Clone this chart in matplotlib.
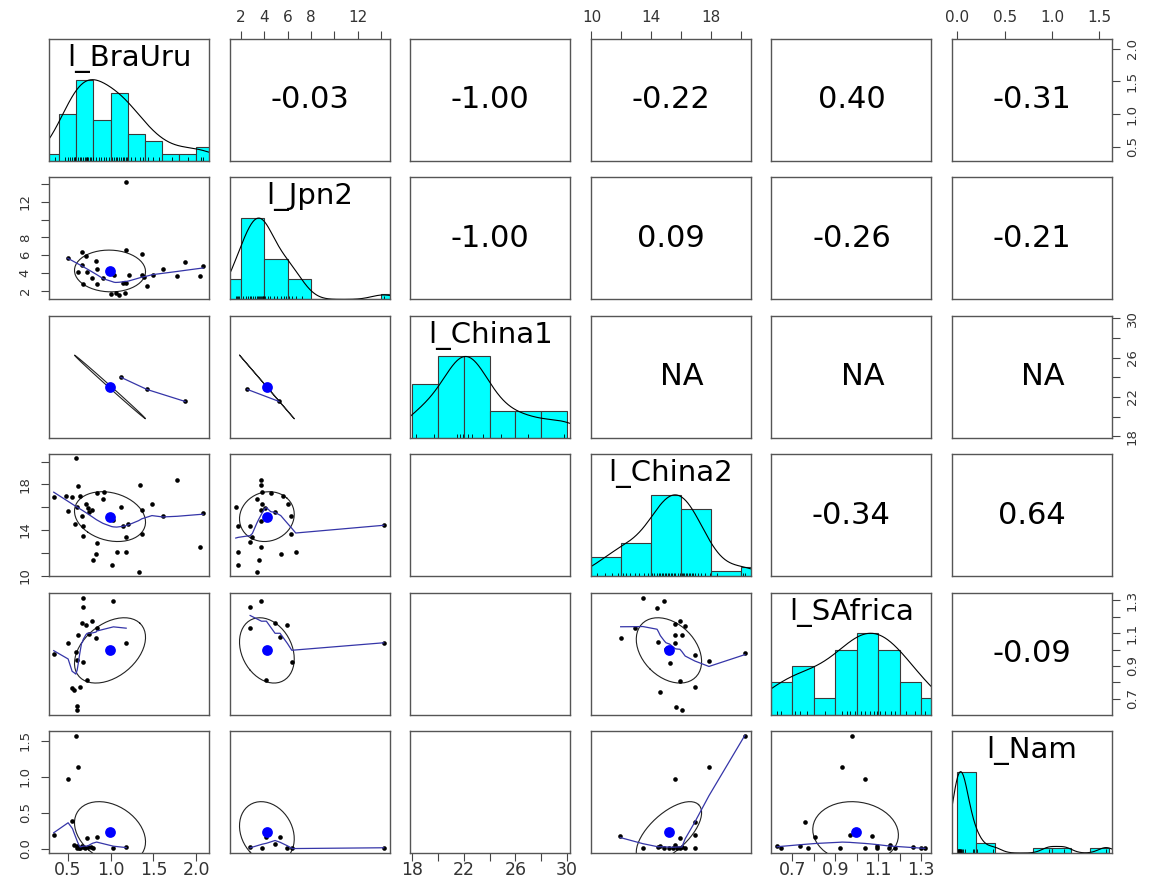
# -*- coding: utf-8 -*-
import matplotlib
matplotlib.use("Agg")
import matplotlib.pyplot as plt  # Biblioteca de gráficos
import numpy as np  # Biblioteca matemática

plt.rcParams["font.family"] = ["DejaVu Sans"]

# Nombres de las variables
nombres = ["l_BraUru", "l_Jpn2", "l_China1", "l_China2", "l_SAfrica", "l_Nam"]

# Valores de cada variable (histograma, rug, densidad, medias y desviaciones)
bra_uru = [0.35,
           0.47, 0.50, 0.53, 0.55, 0.57, 0.58, 0.59,
           0.62, 0.64, 0.66, 0.68, 0.70, 0.71, 0.72, 0.73, 0.74, 0.76, 0.77, 0.79,
           0.83, 0.86, 0.89, 0.92, 0.95, 0.98,
           1.02, 1.04, 1.06, 1.08, 1.10, 1.12, 1.14, 1.16, 1.18, 1.19,
           1.24, 1.29, 1.34, 1.38,
           1.44, 1.50, 1.56,
           1.72, 1.90, 2.05, 2.08]
jpn2 = [1.55, 1.66, 1.74, 1.81,
        2.20, 2.45, 2.60, 2.78, 2.90, 3.05, 3.20, 3.35, 3.45, 3.55, 3.65, 3.72, 3.80, 3.86,
        3.92, 3.97,
        4.10, 4.30, 4.50, 4.80, 5.10, 5.40, 5.70, 5.90,
        6.10, 6.40, 6.70, 7.20,
        14.22]
china1 = [18.3, 19.7, 21.5, 21.7, 21.9, 22.3, 22.6, 23.5, 24.9, 27.0, 29.8]
china2 = [10.35, 10.9, 11.4, 11.8,
          12.1, 12.3, 12.6, 12.9, 13.2, 13.5, 13.8,
          14.05, 14.2, 14.35, 14.5, 14.6, 14.7, 14.8, 14.9, 15.0, 15.1, 15.2, 15.3, 15.4, 15.5,
          15.6, 15.75, 15.9,
          16.05, 16.1, 16.2, 16.3, 16.4, 16.5, 16.6, 16.7, 16.8, 16.9, 17.1, 17.3, 17.6, 17.9,
          18.4, 20.1, 20.25]
safrica = [0.63, 0.645, 0.71, 0.735, 0.77, 0.85, 0.93, 0.955, 0.97, 0.99, 1.02, 1.04,
           1.06, 1.08, 1.095, 1.11, 1.13, 1.16, 1.18, 1.23, 1.27, 1.32]
nam = [0.005, 0.008, 0.01, 0.012, 0.015, 0.018, 0.02, 0.022, 0.025, 0.03, 0.035, 0.04,
       0.05, 0.06, 0.08, 0.16, 0.18, 0.21, 0.38, 0.97, 1.13, 1.57]
variables = [bra_uru, jpn2, china1, china2, safrica, nam]

# Límites de las clases de los histogramas
bins_bra_uru = [0.2, 0.4, 0.6, 0.8, 1.0, 1.2, 1.4, 1.6, 1.8, 2.0, 2.2]
bins_jpn2 = [0, 2, 4, 6, 8, 10, 12, 14, 16]
bins_china1 = [18, 20, 22, 24, 26, 28, 30]
bins_china2 = [10, 12, 14, 16, 18, 20, 22]
bins_safrica = [0.6, 0.7, 0.8, 0.9, 1.0, 1.1, 1.2, 1.3, 1.4]
bins_nam = [0.0, 0.2, 0.4, 0.6, 0.8, 1.0, 1.2, 1.4, 1.6]
bins = [bins_bra_uru, bins_jpn2, bins_china1, bins_china2, bins_safrica, bins_nam]

# Correlaciones por pares (nan = NA)
nan = np.nan
cor = [[1.0, -0.03, -0.999, -0.22, 0.40, -0.31],
       [-0.03, 1.0, -1.0, 0.09, -0.26, -0.21],
       [-0.999, -1.0, 1.0, nan, nan, nan],
       [-0.22, 0.09, nan, 1.0, -0.34, 0.64],
       [0.40, -0.26, nan, -0.34, 1.0, -0.09],
       [-0.31, -0.21, nan, 0.64, -0.09, 1.0]]

# Marcas de los ejes exteriores
ticks = [[0.5, 1.0, 1.5, 2.0],
         [2, 4, 6, 8, 10, 12, 14],
         [18, 20, 22, 24, 26, 28, 30],
         [10, 12, 14, 16, 18, 20],
         [0.7, 0.8, 0.9, 1.0, 1.1, 1.2, 1.3],
         [0.0, 0.5, 1.0, 1.5]]
tick_labels = [["0.5", "1.0", "1.5", "2.0"],
               ["2", "4", "6", "8", "", "12", ""],
               ["18", "", "22", "", "26", "", "30"],
               ["10", "", "14", "", "18", ""],
               ["0.7", "", "0.9", "", "1.1", "", "1.3"],
               ["0.0", "0.5", "1.0", "1.5"]]

# Puntos de los paneles inferiores (fila, columna)
p10_x = [1.18, 0.50, 0.665, 0.71, 0.83, 0.665, 0.84, 0.62, 0.73, 0.78, 0.68, 0.84, 0.915, 1.18,
         1.37, 1.21, 1.04, 1.14, 1.185, 1.01, 1.06, 1.10, 1.17, 1.37, 1.39, 1.43, 1.49, 1.61,
         1.78, 1.87, 2.04, 2.08]
p10_y = [14.22, 5.73, 6.40, 5.95, 5.36, 4.91, 4.50, 4.16, 4.09, 3.49, 2.78, 2.78, 3.42, 6.59,
         6.14, 3.76, 3.76, 2.86, 2.93, 1.66, 1.81, 1.52, 1.74, 3.79, 3.60, 2.56, 3.79, 4.43,
         3.71, 5.21, 3.71, 4.75]
p20_x = [1.12, 1.425, 1.87]
p20_y = [24.0, 22.76, 21.54]
p21_x = [2.57, 5.27]
p21_y = [22.76, 21.54]
p30_x = [0.594, 0.336, 0.485, 0.555, 0.641, 0.622, 0.837, 0.927, 0.908, 0.712, 0.504, 0.610,
         0.739, 0.778, 0.751, 0.661, 0.582, 0.680, 0.680, 0.837, 0.830, 0.790, 1.072, 1.182,
         1.013, 1.327, 1.033, 1.119, 1.143, 1.209, 1.182, 1.346, 1.366, 1.366, 1.483, 1.608,
         1.776, 2.043, 2.08]
p30_y = [20.29, 16.87, 16.96, 16.87, 16.96, 17.84, 17.25, 17.37, 16.73, 16.32, 15.64, 16.02,
         15.94, 15.79, 15.58, 15.26, 14.56, 14.33, 13.45, 12.87, 11.93, 11.35, 12.11, 12.05,
         10.94, 10.29, 14.85, 16.02, 14.39, 14.56, 13.39, 17.98, 15.79, 13.65, 16.32, 15.26,
         18.42, 12.51, 15.47]
p31_x = [3.71, 3.77, 3.79, 4.56, 3.37, 5.65, 6.05, 3.85, 1.57, 3.71, 4.08, 4.93, 6.33, 3.77,
         1.72, 2.80, 2.99, 6.27, 2.80, 3.71, 1.77, 5.42, 6.70, 3.57, 1.72, 3.42, 14.22, 4.22]
p31_y = [18.42, 17.98, 17.37, 17.25, 16.73, 16.96, 16.32, 16.32, 16.02, 15.79, 15.94, 15.61,
         15.26, 14.77, 14.39, 14.33, 13.39, 13.65, 12.92, 12.51, 12.08, 11.90, 12.05, 11.35,
         10.91, 10.29, 14.47, 15.2]
p40_x = [0.680, 0.680, 1.033, 0.661, 0.712, 0.778, 0.837, 0.622, 0.751, 0.830, 0.504, 1.182,
         0.594, 0.336, 0.610, 0.673, 0.727, 0.551, 0.571, 0.641, 0.610, 0.610]
p40_y = [1.316, 1.260, 1.296, 1.159, 1.149, 1.175, 1.129, 1.089, 1.095, 1.069, 1.042, 1.042,
         0.982, 0.972, 0.933, 0.921, 0.812, 0.766, 0.752, 0.772, 0.655, 0.631]
p41_x = [3.77, 2.80, 4.93, 5.99, 2.80, 5.36, 6.36, 4.19, 14.22]
p41_y = [1.296, 1.260, 1.159, 1.149, 1.129, 1.074, 0.921, 0.812, 1.042]
p43_x = [13.43, 14.87, 14.38, 15.91, 15.60, 16.26, 12.88, 11.95, 15.60, 16.04, 14.47, 15.60,
         16.90, 15.22, 17.85, 20.25, 15.91, 16.90, 14.60, 15.64, 16.04, 14.98]
p43_y = [1.314, 1.296, 1.256, 1.175, 1.155, 1.145, 1.129, 1.072, 1.088, 1.088, 1.044, 1.038,
         0.967, 0.919, 0.931, 0.978, 0.808, 0.768, 0.742, 0.651, 0.631, 1.004]
p50_x = [0.594, 0.614, 0.504, 0.555, 0.336, 0.727, 0.837, 0.571, 0.610, 0.661, 0.680, 0.602,
         0.633, 0.700, 0.739, 0.767, 0.790, 1.033, 1.182, 0.645]
p50_y = [1.569, 1.140, 0.969, 0.392, 0.198, 0.152, 0.170, 0.056, 0.046, 0.046, 0.022, 0.012,
         0.012, 0.012, 0.022, 0.022, 0.012, 0.015, 0.022, 0.015]
p51_x = [2.80, 3.85, 4.19, 4.93, 5.36, 5.99, 6.42, 14.22]
p51_y = [0.022, 0.012, 0.161, 0.069, 0.170, 0.012, 0.012, 0.015]
p53_x = [20.24, 17.85, 15.58, 11.92, 16.90, 16.90, 15.91, 13.43, 14.47, 14.60, 14.87, 15.20,
         15.58, 15.71, 15.91, 16.04, 16.26, 16.90, 15.42]
p53_y = [1.569, 1.140, 0.969, 0.175, 0.378, 0.193, 0.152, 0.012, 0.032, 0.046, 0.012, 0.012,
         0.060, 0.012, 0.015, 0.032, 0.015, 0.012, 0.012]
p54_x = [0.978, 0.932, 1.037, 0.761, 0.807, 0.967, 1.071, 0.629, 0.649, 0.737, 0.772, 0.921,
         1.037, 1.092, 1.092, 1.157, 1.149, 1.177, 1.261, 1.297, 1.317]
p54_y = [1.569, 1.140, 0.969, 0.378, 0.161, 0.193, 0.175, 0.046, 0.012, 0.046, 0.012, 0.012,
         0.012, 0.046, 0.012, 0.060, 0.012, 0.012, 0.023, 0.012, 0.012]

puntos = {(1, 0): (p10_x, p10_y), (2, 0): (p20_x, p20_y), (2, 1): (p21_x, p21_y),
          (3, 0): (p30_x, p30_y), (3, 1): (p31_x, p31_y),
          (4, 0): (p40_x, p40_y), (4, 1): (p41_x, p41_y), (4, 3): (p43_x, p43_y),
          (5, 0): (p50_x, p50_y), (5, 1): (p51_x, p51_y), (5, 3): (p53_x, p53_y),
          (5, 4): (p54_x, p54_y)}


# Suavizado lowess (como stats::lowess de R)
def lowess(x, y, f=2 / 3, it=3):
    x = np.asarray(x, float)
    y = np.asarray(y, float)
    o = np.argsort(x, kind="stable")
    x, y = x[o], y[o]
    n = len(x)
    ns = max(2, min(n, int(f * n + 1e-7)))
    rango = x[-1] - x[0]
    rw = np.ones(n)
    fit = np.zeros(n)
    for k in range(it + 1):
        for i in range(n):
            d = np.abs(x - x[i])
            h = max(np.sort(d)[ns - 1], 1e-12)
            w = np.where(d <= 0.999 * h, (1 - (d / h) ** 3) ** 3, 0.0)
            w[d <= 0.001 * h] = 1.0
            w = w * rw
            if w.sum() <= 0:
                fit[i] = y[i]
                continue
            w = w / w.sum()
            xm = (w * x).sum()
            c = (w * (x - xm) ** 2).sum()
            if np.sqrt(c) > 0.001 * rango:
                w = w * ((x[i] - xm) / c * (x - xm) + 1)
            fit[i] = (w * y).sum()
        if k == it:
            break
        res = y - fit
        cmad = 6 * np.median(np.abs(res))
        if cmad < 1e-7 * np.mean(np.abs(y)):
            break
        u = np.abs(res) / cmad
        rw = np.where(u <= 0.999, (1 - u ** 2) ** 2, 0.0)
        rw[u <= 0.001] = 1.0
    return x, fit


# Densidad (bw="nrd", adjust=1.2), escalada a máximo 1
def densidad(v):
    v = np.asarray(v, float)
    q1, q3 = np.percentile(v, [25, 75])
    bw = 1.06 * min(np.std(v, ddof=1), (q3 - q1) / 1.34) * len(v) ** (-0.2) * 1.2
    gx = np.linspace(v.min() - 3 * bw, v.max() + 3 * bw, 512)
    gy = np.exp(-0.5 * ((gx[:, None] - v[None, :]) / bw) ** 2).sum(axis=1)
    return gx, gy / gy.max()


# Elipse de correlación (como psych::draw.ellipse)
def elipse(mx, my, sx, sy, r, seg=51):
    ang = np.linspace(0, 2 * np.pi, seg + 1)
    th = np.sign(r) / np.sqrt(2) if abs(r) > 0 else 1 / np.sqrt(2)
    a, b = np.sqrt(1 + r), np.sqrt(1 - r)
    ex = a * th * np.cos(ang) - b * th * np.sin(ang)
    ey = a * th * np.cos(ang) + b * th * np.sin(ang)
    return ex * sx + mx, ey * sy + my


# Rangos (4% extra como en R), medias y desviaciones
lims = []
for v in variables:
    lo, hi = min(v), max(v)
    lims.append((lo - 0.04 * (hi - lo), hi + 0.04 * (hi - lo)))
medias = [np.mean(v) for v in variables]
desv = [np.std(v, ddof=1) for v in variables]

# Figura
W, H = 1156, 888
fig = plt.figure(figsize=(W / 100, H / 100), dpi=100)
pw, ph = 160, 122
gris = "#555555"
tick_kw = dict(direction="out", length=5.5, width=0.8, color="#444444",
               labelcolor="#333333")

for i in range(6):
    for j in range(6):
        left = 49 + 180.6 * j
        top = 39 + 138.4 * i
        ax = fig.add_axes([left / W, 1 - (top + ph) / H, pw / W, ph / H])
        ax.set_xlim(lims[j])
        ax.set_ylim((0, 1.5) if i == j else lims[i])
        ax.set_xticks([])
        ax.set_yticks([])
        for s in ax.spines.values():
            s.set_color(gris)
            s.set_linewidth(1.0)

        if i == j:
            # Histograma + densidad + rug
            v = np.asarray(variables[i])
            cnt, ed = np.histogram(v, bins=bins[i])
            ax.bar(ed[:-1], cnt / cnt.max(), width=np.diff(ed), align="edge",
                   color="#00ffff", edgecolor="#3a3a3a", linewidth=0.8)
            gx, gy = densidad(v)
            ax.plot(gx, gy, color="black", lw=0.8)
            ax.vlines(v, 0, 0.045, color="black", lw=0.6)
            ax.text(0.5, 0.84, nombres[i], transform=ax.transAxes, ha="center",
                    va="center", fontsize=21, color="black")
        elif i > j:
            if (i, j) in puntos:
                px, py = puntos[(i, j)]
                ax.scatter(px, py, s=11, color="black", zorder=3, linewidths=0)
                lx, ly = lowess(px, py)
                ax.plot(lx, ly, color="#3535a8", lw=0.9, zorder=4)
                exx, eyy = elipse(medias[j], medias[i], desv[j], desv[i], cor[i][j])
                ax.plot(exx, eyy, color="#222222", lw=0.8, zorder=2)
                ax.scatter([medias[j]], [medias[i]], s=60, color="#0000ff", zorder=5,
                           linewidths=0)
        else:
            r = cor[i][j]
            if np.isnan(r):
                ax.text(0.57, 0.5, "NA", transform=ax.transAxes, ha="center",
                        va="center", fontsize=22)
            else:
                ax.text(0.5, 0.5, f"{r:.2f}", transform=ax.transAxes, ha="center",
                        va="center", fontsize=22)

        # Ejes exteriores
        if i == 5 and j % 2 == 0:
            ax.set_xticks(ticks[j], tick_labels[j])
            ax.tick_params(axis="x", bottom=True, labelbottom=True, pad=0.5,
                           labelsize=12.5, **tick_kw)
        if i == 0 and j % 2 == 1:
            ax.set_xticks(ticks[j], tick_labels[j])
            ax.tick_params(axis="x", top=True, labeltop=True, bottom=False,
                           labelbottom=False, pad=4.5, labelsize=11, **tick_kw)
        if j == 0 and i % 2 == 1:
            ax.set_yticks(ticks[i], tick_labels[i])
            ax.tick_params(axis="y", left=True, labelleft=True, labelrotation=90,
                           pad=7, labelsize=9.5, **tick_kw)
            for t in ax.get_yticklabels():
                t.set_va("center")
        if j == 5 and i % 2 == 0:
            ax.set_yticks(ticks[i], tick_labels[i])
            ax.tick_params(axis="y", right=True, labelright=True, left=False,
                           labelleft=False, labelrotation=90, pad=4.5, labelsize=9.5,
                           **tick_kw)
            for t in ax.get_yticklabels():
                t.set_va("center")

fig.savefig("out.png", dpi=100, facecolor="white")
